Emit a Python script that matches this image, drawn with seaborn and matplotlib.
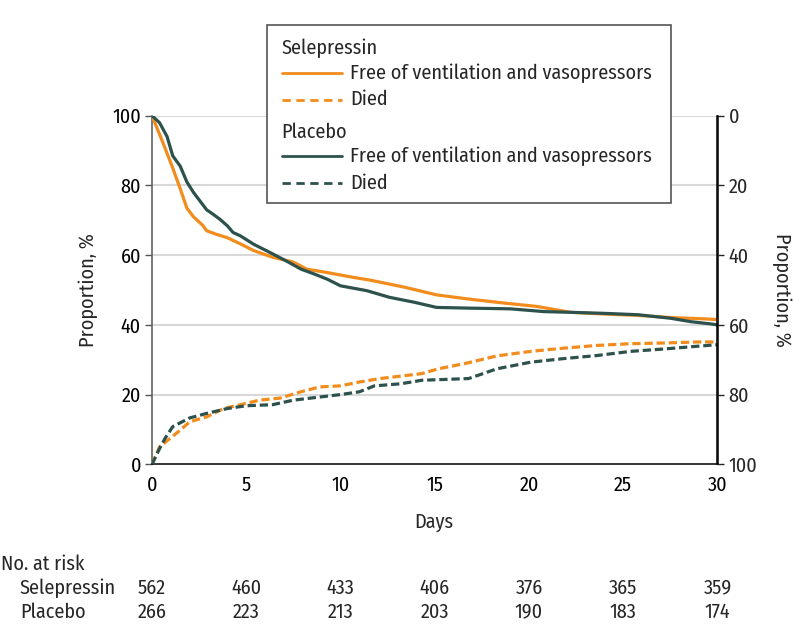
import numpy as np
import pandas as pd
import matplotlib
matplotlib.use("Agg")
import matplotlib.pyplot as plt
import seaborn as sns
from matplotlib.lines import Line2D
from matplotlib.patches import Rectangle
from matplotlib.transforms import blended_transform_factory

# ---------------- data ----------------
sel_free_days = [0, 0.3, 0.6, 1.1, 1.5, 1.85, 2.2, 2.7, 2.9, 3.4, 4.0, 4.7, 5.4, 6.4, 7.5,
                 8.2, 9.3, 10.7, 11.6, 13.4, 15.1, 16.8, 18.6, 20.4, 22.2, 24.0, 25.8,
                 27.5, 29.4, 30]
sel_free_vals = [100, 96, 92, 85, 79, 73.5, 71, 68.5, 67, 66, 65, 63.2, 61.3, 59.4, 58,
                 56, 55, 53.6, 52.8, 50.8, 48.6, 47.4, 46.3, 45.3, 43.6, 43.1, 42.7,
                 42.1, 41.7, 41.5]

pla_free_days = [0, 0.4, 0.8, 1.1, 1.5, 1.85, 2.2, 2.55, 2.9, 3.25, 3.6, 4.0, 4.3, 4.7,
                 5.4, 6.1, 6.6, 7.1, 7.9, 8.6, 9.3, 10.0, 11.4, 12.6, 13.9, 15.1, 16.8,
                 19.0, 20.8, 22.2, 24.0, 25.8, 27.5, 28.6, 29.6, 30]
pla_free_vals = [100, 98, 94, 88.5, 85.5, 81, 78, 75.5, 73, 71.7, 70.3, 68.4, 66.5, 65.5,
                 63.1, 61.2, 59.8, 58.4, 56, 54.6, 53.1, 51.2, 49.8, 47.9, 46.5, 45, 44.8,
                 44.6, 43.8, 43.6, 43.3, 42.9, 41.9, 40.9, 40.3, 40]

sel_died_days = [0, 0.4, 0.95, 1.5, 2.0, 2.9, 3.8, 4.7, 5.7, 6.8, 7.9, 8.9, 10.0, 11.0,
                 12.1, 13.2, 14.3, 15.2, 16.6, 18.3, 20.1, 21.8, 23.6, 25.4, 27.2, 29.0, 30]
sel_died_vals = [0, 5, 7.4, 9.8, 12.2, 13.6, 16, 17.1, 18.4, 19, 20.8, 22.2, 22.5, 23.6,
                 24.6, 25.3, 26, 27.4, 28.9, 31.1, 32.4, 33.3, 34.1, 34.6, 34.8, 35.1, 35.1]

pla_died_days = [0, 0.4, 0.7, 1.1, 2.0, 2.9, 4.0, 5.0, 6.4, 7.5, 8.9, 10.0, 11.0, 11.8,
                 13.2, 14.3, 16.8, 18.3, 20.1, 21.8, 23.6, 25.4, 27.2, 29.0, 30]
pla_died_vals = [0, 4.5, 7.5, 10.8, 13.3, 14.6, 16, 16.8, 17.1, 18.4, 19.3, 20, 20.8, 22.5,
                 23.1, 24.1, 24.6, 27.4, 29.3, 30.3, 31.2, 32.4, 33.1, 33.9, 34.3]

risk_days = [0, 5, 10, 15, 20, 25, 30]
risk_selepressin = [562, 460, 433, 406, 376, 365, 359]
risk_placebo = [266, 223, 213, 203, 190, 183, 174]

ORANGE = "#F28C1C"
TEAL = "#2D524D"

# ---------------- style ----------------
sns.set_style("white")
plt.rcParams['font.family'] = ['Fira Sans Condensed', 'DejaVu Sans']
plt.rcParams['font.weight'] = 'normal'
FS = 14.5

W, H = 794, 640
fig = plt.figure(figsize=(W / 100, H / 100), dpi=100)


def fx(px):
    return px / W


def fy(py):
    return 1 - py / H


ax = fig.add_axes([fx(152), fy(464.3), fx(717.5) - fx(152), fy(115.7) - fy(464.3)])

curves = [
    (sel_free_days, sel_free_vals, ORANGE, "-"),
    (sel_died_days, sel_died_vals, ORANGE, "--"),
    (pla_free_days, pla_free_vals, TEAL, "-"),
    (pla_died_days, pla_died_vals, TEAL, "--"),
]
for d, v, c, ls in curves:
    df = pd.DataFrame({"day": d, "val": v})
    line = sns.lineplot(data=df, x="day", y="val", ax=ax, color=c, lw=2.3,
                        estimator=None, zorder=3)
    if ls == "--":
        line.lines[-1].set_dashes((2.6, 1.2))

ax.set_xlim(0, 30)
ax.set_ylim(0, 100)
ax.set_xticks(risk_days)
ax.set_yticks([0, 20, 40, 60, 80, 100])
ax.set_xlabel("")
ax.set_ylabel("")
for yv in [20, 40, 60, 80, 100]:
    ax.axhline(yv, color="#d8d8d8", lw=1.5, zorder=1)

ax.spines["top"].set_visible(False)
ax.spines["left"].set_color("#555555")
ax.spines["bottom"].set_color("black")
ax.spines["right"].set_color("black")
for s in ["left", "bottom", "right"]:
    ax.spines[s].set_linewidth(1.1)
ax.tick_params(axis="both", direction="out", length=5, width=1.0, labelsize=FS,
               colors="black", pad=3)
ax.tick_params(axis="y", colors="#555555", labelcolor="black")

ax2 = ax.twinx()
ax2.set_ylim(100, 0)
ax2.set_yticks([0, 20, 40, 60, 80, 100])
ax2.tick_params(axis="y", direction="out", length=5, width=1.0, labelsize=FS, pad=3)
for s in ["top", "left", "bottom"]:
    ax2.spines[s].set_visible(False)
ax2.spines["right"].set_linewidth(1.1)
ax2.spines["right"].set_color("black")

# axis labels
fig.text(fx(88), fy(290), "Proportion, %", rotation=90, ha="center", va="center", fontsize=FS)
fig.text(fx(782), fy(290), "Proportion, %", rotation=270, ha="center", va="center", fontsize=FS)
fig.text(fx(434), fy(522), "Days", ha="center", va="center", fontsize=FS)

# ---------------- legend box ----------------
box = Rectangle((fx(267), fy(203)), fx(671) - fx(267), fy(25) - fy(203),
                transform=fig.transFigure, facecolor="white", edgecolor="#555555",
                lw=1.2, zorder=10)
fig.add_artist(box)
legend_rows = [
    ("Selepressin", None, None, 48.5),
    ("Free of ventilation and vasopressors", ORANGE, "-", 73),
    ("Died", ORANGE, "--", 99.5),
    ("Placebo", None, None, 132),
    ("Free of ventilation and vasopressors", TEAL, "-", 156),
    ("Died", TEAL, "--", 183),
]
for label, c, ls, py in legend_rows:
    if c is None:
        fig.text(fx(281.5), fy(py), label, ha="left", va="center", fontsize=FS, zorder=11)
    else:
        ln = Line2D([fx(281.5), fx(341.5)], [fy(py), fy(py)], transform=fig.transFigure,
                    color=c, lw=2.0, zorder=11)
        if ls == "--":
            ln.set_dashes((3.0, 2.0))
        fig.add_artist(ln)
        fig.text(fx(350), fy(py), label, ha="left", va="center", fontsize=FS, zorder=11)

# ---------------- number at risk ----------------
trans = blended_transform_factory(ax.transData, fig.transFigure)
fig.text(fx(1), fy(564), "No. at risk", ha="left", va="center", fontsize=FS)
fig.text(fx(20), fy(588), "Selepressin", ha="left", va="center", fontsize=FS)
fig.text(fx(20), fy(612), "Placebo", ha="left", va="center", fontsize=FS)
for d, s, p in zip(risk_days, risk_selepressin, risk_placebo):
    fig.text(d, fy(588), str(s), transform=trans, ha="center", va="center", fontsize=FS)
    fig.text(d, fy(612), str(p), transform=trans, ha="center", va="center", fontsize=FS)

fig.savefig("out.png", dpi=100)
